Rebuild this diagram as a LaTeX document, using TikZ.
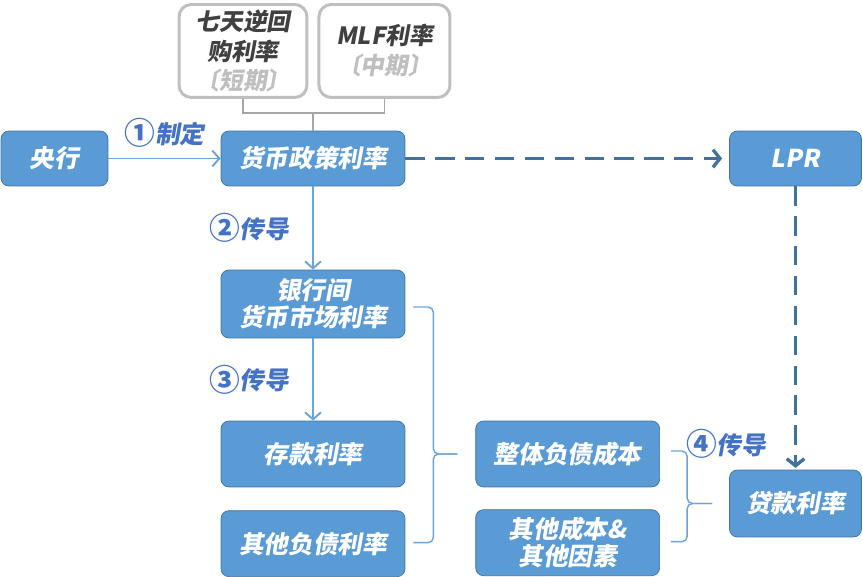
\documentclass[tikz,border=0pt]{standalone}
\usepackage{fontspec}
\newfontfamily\cjkfont[FakeSlant=0.18]{Noto Sans CJK SC}
\newfontfamily\numfont{Noto Sans CJK SC}
\usetikzlibrary{arrows.meta,positioning,calc}
\definecolor{boxblue}{RGB}{91,155,213}
\definecolor{boxedge}{RGB}{65,113,156}
\definecolor{lblblue}{RGB}{68,114,196}
\definecolor{linkblue}{RGB}{106,164,218}
\definecolor{dashblue}{RGB}{65,113,156}
\definecolor{boxgrey}{RGB}{191,191,191}
\definecolor{txtgrey}{RGB}{64,64,64}
\definecolor{brgrey}{RGB}{166,166,166}
\newcommand{\stepno}[1]{\raisebox{-0.12ex}{\scalebox{1.25}{\numfont\bfseries #1}}}

\begin{document}
\begin{tikzpicture}[x=0.02cm, y=-0.02cm,
  every node/.style={font=\cjkfont\bfseries\fontsize{14}{15.5}\selectfont},
  rbox/.style={draw=boxedge, fill=boxblue, rounded corners=4.5pt, text=white, align=center,
    minimum width=3.68cm, minimum height=1.32cm, inner sep=0pt},
  gbox/.style={draw=boxgrey, line width=1.7pt, fill=white, rounded corners=7pt, align=center,
    text=txtgrey, minimum height=1.86cm, inner sep=0pt, font=\cjkfont\bfseries\fontsize{13.5}{17}\selectfont},
  lbl/.style={text=lblblue, inner sep=0pt},
  link/.style={draw=linkblue, line width=1.1pt, -{Straight Barb[length=4pt,width=9pt]}},
  dlink/.style={draw=dashblue, line width=1.9pt, dash pattern=on 11pt off 6pt, -{Straight Barb[length=4pt,width=10pt]}},
  brline/.style={draw=linkblue, line width=0.8pt, rounded corners=3pt}]
  \useasboundingbox (0,0) rectangle (863,577);

  \node[gbox, minimum width=2.56cm] (r7) at (243,51)
    {七天逆回\\购利率\\\textcolor{boxgrey}{〔短期〕}};
  \node[gbox, minimum width=2.62cm, right=0.18cm of r7] (mlf)
    {MLF利率\\\textcolor{boxgrey}{〔中期〕}};

  \node[rbox, minimum width=2.14cm, minimum height=1.1cm] (cb) at (54.5,158.5) {央行};
  \node[rbox, minimum height=1.1cm] (mp) at (313,158.5) {货币政策利率};
  \node[rbox, minimum width=2.64cm, minimum height=1.1cm] (lpr) at (795.5,158.5) {LPR};
  \node[rbox, minimum height=1.36cm] (ib) at (313,304) {银行间\\货币市场利率};
  \node[rbox] (dep) at (313,454) {存款利率};
  \node[rbox, below=0.46cm of dep] (othl) {其他负债利率};
  \node[rbox, right=1.4cm of dep] (cost) {整体负债成本};
  \node[rbox, below=0.44cm of cost] (othc) {其他成本\&\\其他因素};
  \node[rbox, minimum width=2.64cm, minimum height=1.34cm] (loan) at (795.5,503.5) {贷款利率};

  \draw[brgrey, line width=1pt] (r7.south) -- ++(0,14) -| (mlf.south);
  \draw[brgrey, line width=1pt] (mp.north) -- ++(0,-18);

  \draw[link] (cb) -- node[lbl, above=0.2cm] (s1) {\stepno{①}制定} (mp);
  \draw[link] (mp) -- node[lbl, left=0.46cm] (s2) {\stepno{②}传导} (ib);
  \draw[link] (ib) -- node[lbl, left=0.46cm] (s3) {\stepno{③}传导} (dep);
  \draw[dlink, shorten >=4pt] (mp) -- (lpr);
  \draw[dlink, shorten >=1pt] (lpr) -- (loan);

  \draw[brline] ($(ib.east)+(8,3)$) -| ($(cost.west)+(-42,0)$) -- ($(cost.west)+(-18,0)$);
  \draw[brline] ($(othl.east)+(8,-1)$) -| ($(cost.west)+(-42,0)$) -- ($(cost.west)+(-18,0)$);
  \draw[brline] ($(cost.east)+(11,-3)$) -| ($(loan.west)+(-42,0)$) -- ($(loan.west)+(-17,0)$);
  \draw[brline] ($(othc.east)+(11,-1)$) -| ($(loan.west)+(-42,0)$) -- ($(loan.west)+(-17,0)$);
  \node[lbl] (s4) at (726,444) {\stepno{④}传导};
\end{tikzpicture}
\end{document}
